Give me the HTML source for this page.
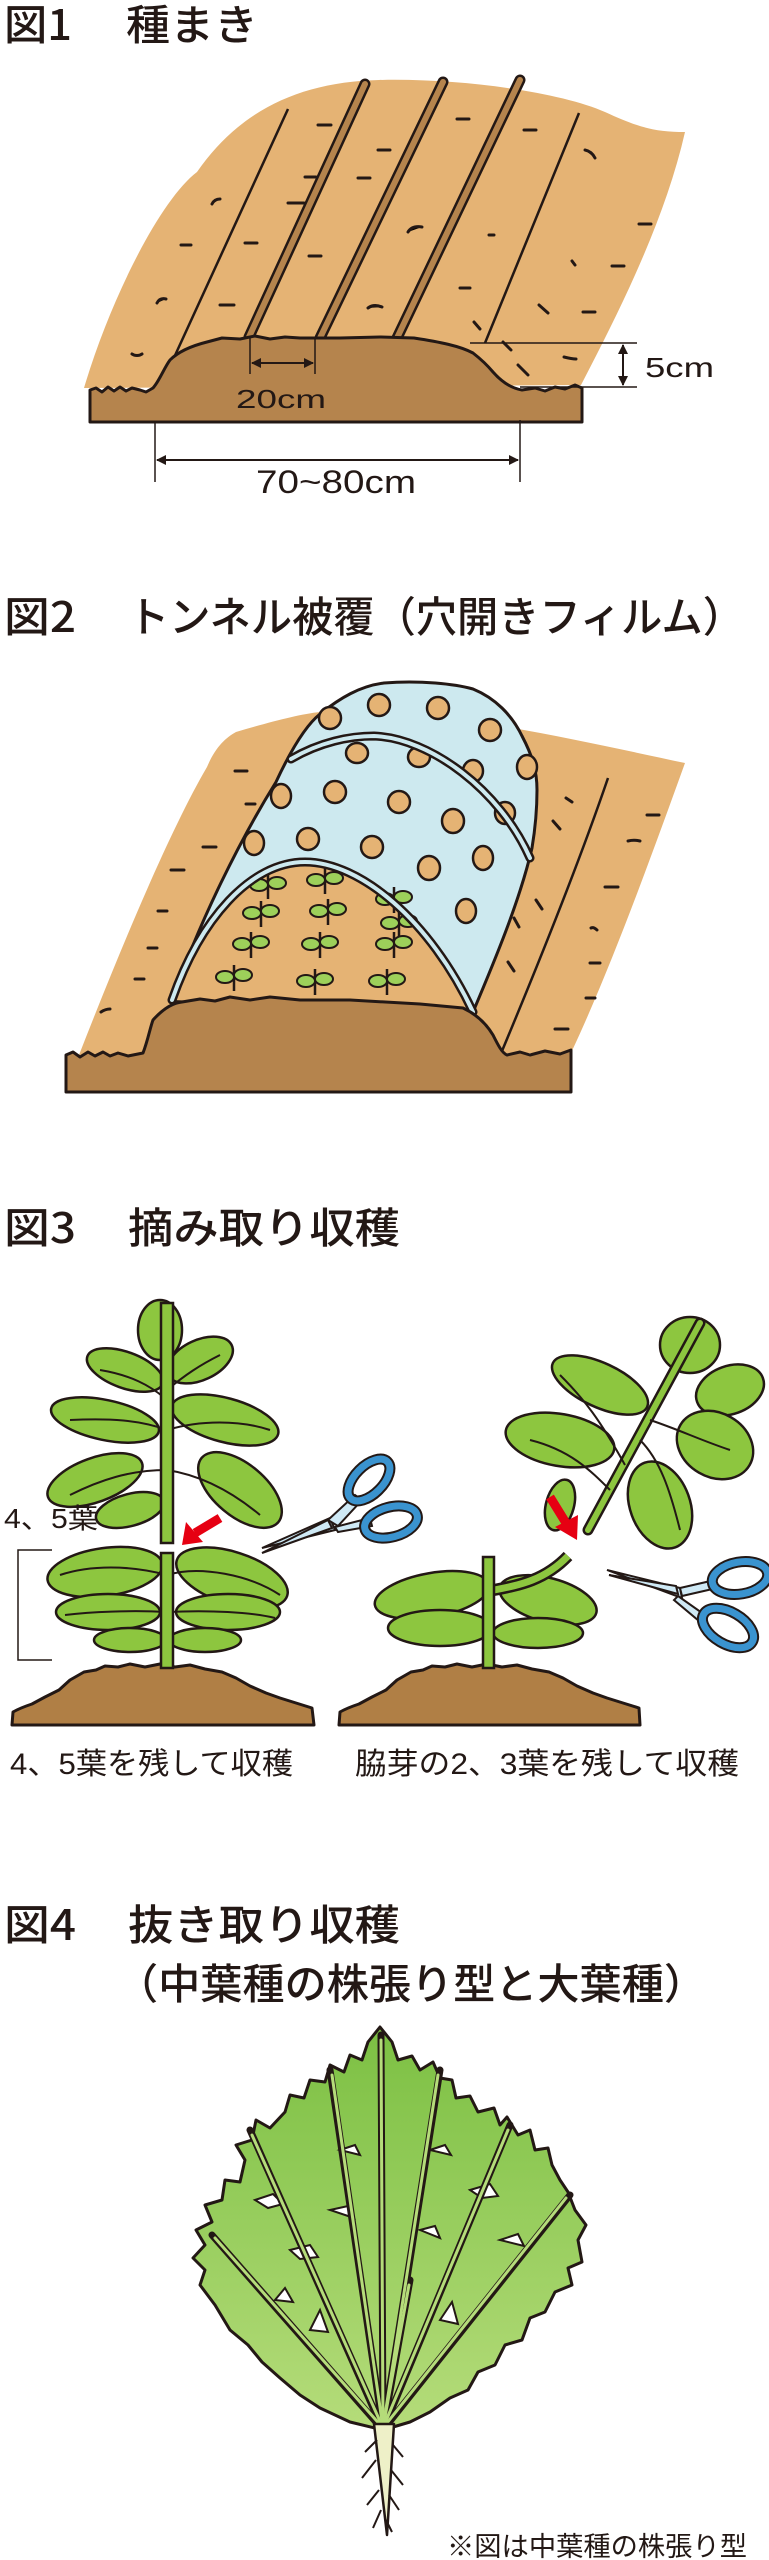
<!DOCTYPE html>
<html><head><meta charset="utf-8">
<style>
html,body{margin:0;padding:0;background:#fff;}
svg{display:block;}
.t{font-family:"Liberation Sans","Noto Sans CJK JP",sans-serif;fill:#231815;}
.tt{font-family:"Noto Sans CJK JP","Liberation Sans",sans-serif;fill:#231815;font-weight:500;}
</style></head>
<body>
<svg width="769" height="2560" viewBox="0 0 769 2560" xmlns="http://www.w3.org/2000/svg">
<defs>
<marker id="ah" markerWidth="10" markerHeight="10" refX="9" refY="5" orient="auto-start-reverse" markerUnits="userSpaceOnUse"><path d="M0,0 L10,5 L0,10 Z" fill="#231815"/></marker>
<g id="sd">
<line x1="0" y1="-14" x2="0" y2="12" stroke="#231815" stroke-width="2.5"/>
<ellipse cx="-9" cy="-2" rx="9" ry="6" fill="#9dd05a" stroke="#231815" stroke-width="2"/>
<ellipse cx="9" cy="-4" rx="9" ry="6" fill="#9dd05a" stroke="#231815" stroke-width="2"/>
</g>
<linearGradient id="lg" x1="0" y1="0" x2="0" y2="1"><stop offset="0" stop-color="#7cc043"/><stop offset="1" stop-color="#b5dc7a"/></linearGradient>
</defs>

<!-- ============ FIG 1 ============ -->
<text class="tt" x="4" y="40" font-size="42" textLength="68" lengthAdjust="spacingAndGlyphs">図1</text>
<text class="tt" x="126" y="40" font-size="42" textLength="132" lengthAdjust="spacingAndGlyphs">種まき</text>

<path d="M84,388 C110,300 160,200 197,172 C240,110 300,82 379,80 C460,78 560,92 605,112 C640,128 655,132 685,132 C665,220 620,310 581,385 Z" fill="#e5b374"/>
<g stroke="#231815" stroke-width="2.5" fill="none">
<line x1="288" y1="109" x2="172" y2="362"/>
<line x1="579" y1="113" x2="485" y2="343"/>
</g>
<g stroke-linecap="round">
<line x1="365" y1="84" x2="249" y2="337" stroke="#231815" stroke-width="11"/>
<line x1="365" y1="84" x2="249" y2="337" stroke="#b5844d" stroke-width="6"/>
<line x1="443" y1="82" x2="320" y2="338" stroke="#231815" stroke-width="11"/>
<line x1="443" y1="82" x2="320" y2="338" stroke="#b5844d" stroke-width="6"/>
<line x1="520" y1="80" x2="397" y2="338" stroke="#231815" stroke-width="11"/>
<line x1="520" y1="80" x2="397" y2="338" stroke="#b5844d" stroke-width="6"/>
</g>
<g stroke="#231815" stroke-width="3" stroke-linecap="round">
<path d="M318,125h13M457,119h12M524,130h12M585,150c5,1 8,4 10,8M378,150h12M305,177h11M358,178h12M212,204c2,-4 5,-5 8,-5M288,203h16M408,232c3,-5 8,-6 14,-5M489,235h5M639,224h12M181,245h10M245,243h12M309,256h12M612,266h12M572,261l3,4M157,303c2,-4 5,-5 9,-4M220,305h14M460,288h10M368,308c4,-3 9,-3 14,-1M539,305l9,8M583,312h12M474,322l6,7M132,354c3,2 7,2 10,0M564,357c4,1 8,2 12,2M518,365l10,10M503,342l8,8"/>
</g>
<path d="M90,422 L90,390 L96,388 L102,392 L108,387 L114,391 L120,387 L126,391 L132,388 L140,390 L146,392 L153,388 C160,380 164,368 170,360 C180,350 195,345 207,342 L222,338 L240,339 L255,336 L270,339 L285,337 L300,338 L340,338 L380,337 L414,338 C440,342 460,346 473,353 C482,360 488,366 493,372 C500,380 510,388 522,390 L535,388 L545,391 L555,387 L565,389 L575,385 L582,388 L582,422 Z" fill="#b5844d" stroke="#231815" stroke-width="3" stroke-linejoin="round"/>
<g stroke="#231815" stroke-width="1.5">
<line x1="250" y1="338" x2="250" y2="374"/>
<line x1="315" y1="338" x2="315" y2="374"/>
<line x1="252" y1="363" x2="313" y2="363" marker-start="url(#ah)" marker-end="url(#ah)" stroke-width="2"/>
<line x1="470" y1="343" x2="637" y2="343"/>
<line x1="520" y1="387" x2="637" y2="387"/>
<line x1="623" y1="345" x2="623" y2="385" marker-start="url(#ah)" marker-end="url(#ah)" stroke-width="2"/>
<line x1="155" y1="422" x2="155" y2="482"/>
<line x1="520" y1="420" x2="520" y2="482"/>
<line x1="157" y1="460" x2="518" y2="460" marker-start="url(#ah)" marker-end="url(#ah)" stroke-width="2"/>
</g>
<text class="t" x="236" y="408" font-size="26" textLength="90" lengthAdjust="spacingAndGlyphs">20cm</text>
<text class="t" x="645" y="377" font-size="28" textLength="69" lengthAdjust="spacingAndGlyphs">5cm</text>
<text class="t" x="256" y="493" font-size="32" textLength="160" lengthAdjust="spacingAndGlyphs">70~80cm</text>

<!-- ============ FIG 2 ============ -->
<text class="tt" x="4" y="632" font-size="42" textLength="72" lengthAdjust="spacingAndGlyphs">図2</text>
<text class="tt" x="128" y="632" font-size="42" textLength="616" lengthAdjust="spacingAndGlyphs">トンネル被覆（穴開きフィルム）</text>

<path d="M79,1055 C120,950 170,830 207,767 C215,748 225,738 236,732 C270,722 300,714 320,712 L400,712 C500,722 600,745 685,763 C650,860 610,970 571,1053 Z" fill="#e5b374"/>
<path d="M608,778 C580,860 540,960 502,1051" stroke="#231815" stroke-width="2.5" fill="none"/>
<g stroke="#231815" stroke-width="3" stroke-linecap="round">
<path d="M235,771h12M246,804h9M203,847h13M171,870h13M158,911h9M148,948h9M135,979h9M101,1012c3,-2 6,-3 9,-3M566,798l6,4M553,821l7,8M647,815h12M628,841c4,-1 8,-1 12,0M605,887h13M591,928c2,-1 4,0 6,2M590,963h10M586,998h9M555,1029h13M536,900l6,9M514,918l5,9M508,962l6,9M273,985c3,3 7,3 10,0M418,973c4,-3 9,-3 13,0"/>
</g>
<path d="M172,1000 C200,920 240,840 276,782 C290,752 305,726 320,714 C340,698 360,686 384,683 C420,680 455,684 473,689 C495,698 512,715 522,736 C532,755 537,770 537,790 C537,810 535,830 532,848 C520,900 495,960 473,1012 Z" fill="#cde9ef" stroke="#231815" stroke-width="3" stroke-linejoin="round"/>
<g fill="#e5b374" stroke="#231815" stroke-width="2.5">
<ellipse cx="379" cy="705" rx="11" ry="11"/><ellipse cx="438" cy="708" rx="11" ry="11"/><ellipse cx="330" cy="718" rx="11" ry="11"/><ellipse cx="490" cy="730" rx="11" ry="11"/>
<ellipse cx="357" cy="753" rx="11" ry="10"/><ellipse cx="419" cy="757" rx="11" ry="10"/><ellipse cx="473" cy="771" rx="10" ry="11"/><ellipse cx="527" cy="767" rx="10" ry="12"/>
<ellipse cx="281" cy="796" rx="10" ry="12"/><ellipse cx="335" cy="792" rx="11" ry="11"/><ellipse cx="399" cy="802" rx="11" ry="11"/><ellipse cx="453" cy="821" rx="11" ry="12"/><ellipse cx="505" cy="813" rx="10" ry="11"/>
<ellipse cx="254" cy="843" rx="10" ry="12"/><ellipse cx="308" cy="839" rx="11" ry="11"/><ellipse cx="372" cy="847" rx="11" ry="11"/><ellipse cx="483" cy="858" rx="10" ry="12"/><ellipse cx="429" cy="868" rx="11" ry="12"/><ellipse cx="466" cy="911" rx="10" ry="12"/>
</g>
<path d="M172,1000 C200,920 250,862 305,862 C360,862 430,920 473,1012 Z" fill="#e5b374"/>
<g>
<use href="#sd" x="268" y="887"/><use href="#sd" x="325" y="882"/><use href="#sd" x="261" y="915"/><use href="#sd" x="328" y="913"/><use href="#sd" x="394" y="901"/><use href="#sd" x="399" y="925"/><use href="#sd" x="251" y="946"/><use href="#sd" x="320" y="946"/><use href="#sd" x="394" y="946"/><use href="#sd" x="234" y="979"/><use href="#sd" x="315" y="983"/><use href="#sd" x="387" y="983"/>
</g>
<g fill="none" stroke-linecap="round">
<path d="M172,1000 C200,920 250,862 305,862 C360,862 430,920 473,1012" stroke="#231815" stroke-width="9"/>
<path d="M172,1000 C200,920 250,862 305,862 C360,862 430,920 473,1012" stroke="#cde9ef" stroke-width="4"/>
<path d="M291,759 C320,742 350,736 374,736 C430,738 500,790 530,858" stroke="#231815" stroke-width="9"/>
<path d="M291,759 C320,742 350,736 374,736 C430,738 500,790 530,858" stroke="#cde9ef" stroke-width="4"/>
</g>
<path d="M66,1092 L66,1055 L73,1052 L80,1057 L88,1052 L95,1056 L103,1052 L110,1056 L118,1053 L128,1056 L143,1053 C148,1040 150,1028 153,1020 C162,1010 172,1003 182,1002 L200,999 L215,1001 L230,997 L250,1000 L270,997 L300,1000 L350,1000 L420,1004 L463,1008 C478,1015 487,1025 493,1035 C498,1045 502,1053 507,1055 L520,1052 L530,1055 L545,1051 L560,1054 L571,1050 L571,1092 Z" fill="#b5844d" stroke="#231815" stroke-width="3" stroke-linejoin="round"/>

<!-- ============ FIG 3 ============ -->
<text class="tt" x="4" y="1243" font-size="42" textLength="72" lengthAdjust="spacingAndGlyphs">図3</text>
<text class="tt" x="128" y="1243" font-size="42" textLength="272" lengthAdjust="spacingAndGlyphs">摘み取り収穫</text>

<path d="M12,1725 L13,1712 C20,1708 26,1706 32,1704 L45,1697 L59,1690 L70,1680 L84,1672 L96,1670 L105,1666 L118,1667 L130,1664 L145,1667 L160,1664 L175,1667 L190,1665 L205,1669 L222,1672 L236,1678 L250,1686 L266,1693 L280,1698 L296,1703 L312,1708 L314,1725 Z" fill="#b07f45" stroke="#231815" stroke-width="3" stroke-linejoin="round"/>
<path d="M339,1725 L340,1712 C347,1708 353,1706 359,1704 L372,1697 L386,1690 L397,1680 L411,1672 L423,1670 L432,1666 L445,1667 L457,1664 L472,1667 L487,1664 L502,1667 L517,1665 L532,1669 L549,1672 L563,1678 L577,1686 L593,1693 L607,1698 L623,1703 L639,1708 L640,1725 Z" fill="#b07f45" stroke="#231815" stroke-width="3" stroke-linejoin="round"/>

<g fill="#8dc63f" stroke="#231815" stroke-width="2.5">
<ellipse cx="160" cy="1330" rx="22" ry="30"/>
<ellipse cx="125" cy="1370" rx="40" ry="18" transform="rotate(20 125 1370)"/>
<ellipse cx="200" cy="1360" rx="35" ry="20" transform="rotate(-25 200 1360)"/>
<ellipse cx="105" cy="1420" rx="55" ry="20" transform="rotate(12 105 1420)"/>
<ellipse cx="225" cy="1420" rx="55" ry="22" transform="rotate(15 225 1420)"/>
<ellipse cx="95" cy="1480" rx="50" ry="22" transform="rotate(-20 95 1480)"/>
<ellipse cx="240" cy="1490" rx="50" ry="26" transform="rotate(40 240 1490)"/>
<ellipse cx="130" cy="1510" rx="35" ry="16" transform="rotate(-15 130 1510)"/>
<ellipse cx="105" cy="1572" rx="58" ry="24" transform="rotate(-8 105 1572)"/>
<ellipse cx="232" cy="1578" rx="58" ry="26" transform="rotate(18 232 1578)"/>
<ellipse cx="108" cy="1612" rx="52" ry="18"/>
<ellipse cx="228" cy="1612" rx="52" ry="18"/>
<ellipse cx="130" cy="1640" rx="36" ry="12"/>
<ellipse cx="205" cy="1640" rx="36" ry="12"/>
</g>
<g stroke="#231815" stroke-width="2" fill="none">
<path d="M167,1400 C150,1385 130,1375 100,1370M167,1390 C185,1375 200,1365 220,1355M167,1430 C140,1420 110,1418 70,1420M167,1430 C200,1420 240,1420 270,1430M167,1470 C130,1470 100,1480 70,1495M167,1470 C200,1475 230,1490 260,1515M167,1575 C130,1565 90,1565 60,1575M167,1575 C200,1565 250,1575 280,1595M167,1612 C130,1610 90,1612 65,1615M167,1612 C210,1610 250,1612 275,1618"/>
</g>
<rect x="161" y="1303" width="12" height="240" fill="#8dc63f" stroke="#231815" stroke-width="2.5"/>
<rect x="161" y="1553" width="12" height="115" fill="#8dc63f" stroke="#231815" stroke-width="2.5"/>
<line x1="220" y1="1518" x2="195" y2="1533" stroke="#e60012" stroke-width="9"/>
<path d="M182,1545 L186,1522 L203,1542 Z" fill="#e60012"/>
<g stroke="#231815" stroke-width="2">
<path d="M330,1518 L262,1548 L335,1530 Z" fill="#cfe9f5"/>
<path d="M332,1528 L262,1553 L328,1520 Z" fill="#cfe9f5"/>
<path d="M328,1520 L355,1495 L362,1500 L338,1526 Z" fill="#cfe9f5"/>
<path d="M335,1527 L370,1518 L372,1526 L338,1532 Z" fill="#cfe9f5"/>
</g>
<g fill="none">
<ellipse cx="369" cy="1480" rx="26" ry="14" transform="rotate(-45 369 1480)" stroke="#231815" stroke-width="11"/>
<ellipse cx="369" cy="1480" rx="26" ry="14" transform="rotate(-45 369 1480)" stroke="#3a93cf" stroke-width="7"/>
<ellipse cx="391" cy="1522" rx="27" ry="15" transform="rotate(-15 391 1522)" stroke="#231815" stroke-width="11"/>
<ellipse cx="391" cy="1522" rx="27" ry="15" transform="rotate(-15 391 1522)" stroke="#3a93cf" stroke-width="7"/>
</g>
<path d="M52,1550 H18 V1660 H52" fill="none" stroke="#231815" stroke-width="1.5"/>
<text class="t" x="4" y="1528" font-size="28" textLength="94" lengthAdjust="spacingAndGlyphs">4、5葉</text>

<g fill="#8dc63f" stroke="#231815" stroke-width="2.5">
<ellipse cx="690" cy="1345" rx="30" ry="28"/>
<ellipse cx="600" cy="1385" rx="52" ry="22" transform="rotate(25 600 1385)"/>
<ellipse cx="730" cy="1390" rx="35" ry="24" transform="rotate(-20 730 1390)"/>
<ellipse cx="560" cy="1440" rx="55" ry="26" transform="rotate(10 560 1440)"/>
<ellipse cx="715" cy="1445" rx="40" ry="32" transform="rotate(30 715 1445)"/>
<ellipse cx="660" cy="1505" rx="30" ry="45" transform="rotate(-20 660 1505)"/>
<ellipse cx="560" cy="1505" rx="14" ry="26" transform="rotate(15 560 1505)"/>
</g>
<path d="M588,1530 L700,1323" stroke="#231815" stroke-width="11" stroke-linecap="round"/>
<path d="M588,1530 L700,1323" stroke="#8dc63f" stroke-width="6" stroke-linecap="round"/>
<g stroke="#231815" stroke-width="2" fill="none"><path d="M610,1490 C590,1470 570,1450 530,1440M625,1465 C600,1420 585,1400 560,1375M650,1420 C680,1430 700,1440 730,1450M640,1440 C660,1460 670,1490 680,1530"/></g>
<g fill="#8dc63f" stroke="#231815" stroke-width="2.5">
<ellipse cx="432" cy="1595" rx="58" ry="22" transform="rotate(-10 432 1595)"/>
<ellipse cx="440" cy="1628" rx="52" ry="18"/>
<ellipse cx="548" cy="1600" rx="50" ry="22" transform="rotate(15 548 1600)"/>
<ellipse cx="538" cy="1633" rx="45" ry="15"/>
</g>
<path d="M494,1590 C520,1585 545,1580 568,1556" stroke="#231815" stroke-width="12" fill="none"/>
<path d="M494,1590 C520,1585 545,1580 568,1556" stroke="#8dc63f" stroke-width="7" fill="none"/>
<rect x="483" y="1557" width="11" height="111" fill="#8dc63f" stroke="#231815" stroke-width="2.5"/>
<line x1="550" y1="1497" x2="566" y2="1523" stroke="#e60012" stroke-width="9"/>
<path d="M577,1540 L555,1527 L578,1515 Z" fill="#e60012"/>
<g stroke="#231815" stroke-width="2">
<path d="M680,1588 L607,1570 L682,1598 Z" fill="#cfe9f5"/>
<path d="M678,1594 L609,1575 L676,1586 Z" fill="#cfe9f5"/>
<path d="M680,1588 L715,1580 L717,1588 L682,1596 Z" fill="#cfe9f5"/>
<path d="M678,1596 L705,1615 L699,1621 L674,1600 Z" fill="#cfe9f5"/>
</g>
<g fill="none">
<ellipse cx="740" cy="1578" rx="28" ry="16" transform="rotate(-10 740 1578)" stroke="#231815" stroke-width="11"/>
<ellipse cx="740" cy="1578" rx="28" ry="16" transform="rotate(-10 740 1578)" stroke="#3a93cf" stroke-width="7"/>
<ellipse cx="728" cy="1628" rx="28" ry="16" transform="rotate(30 728 1628)" stroke="#231815" stroke-width="11"/>
<ellipse cx="728" cy="1628" rx="28" ry="16" transform="rotate(30 728 1628)" stroke="#3a93cf" stroke-width="7"/>
</g>

<text class="t" x="10" y="1774" font-size="30" textLength="283" lengthAdjust="spacingAndGlyphs">4、5葉を残して収穫</text>
<text class="t" x="355" y="1774" font-size="30" textLength="384" lengthAdjust="spacingAndGlyphs">脇芽の2、3葉を残して収穫</text>

<!-- ============ FIG 4 ============ -->
<text class="tt" x="4" y="1940" font-size="42" textLength="72" lengthAdjust="spacingAndGlyphs">図4</text>
<text class="tt" x="128" y="1940" font-size="42" textLength="272" lengthAdjust="spacingAndGlyphs">抜き取り収穫</text>
<text class="tt" x="116" y="1999" font-size="42" textLength="590" lengthAdjust="spacingAndGlyphs">（中葉種の株張り型と大葉種）</text>

<path d="M383,2430 L350,2422 L320,2408 L300,2395 L280,2378 L262,2362 L248,2345 L230,2330 L215,2305 L200,2285 L205,2270 L193,2258 L205,2245 L196,2230 L212,2222 L205,2205 L222,2200 L225,2180 L240,2182 L245,2160 L236,2145 L252,2140 L256,2120 L270,2128 L285,2112 L290,2095 L304,2098 L310,2080 L325,2082 L330,2065 L344,2072 L350,2055 L362,2060 L368,2042 L380,2027 L392,2042 L398,2060 L412,2056 L420,2070 L433,2062 L440,2078 L452,2080 L456,2098 L470,2096 L478,2112 L494,2108 L500,2125 L507,2117 L518,2135 L530,2130 L535,2150 L548,2148 L552,2165 L560,2180 L568,2192 L575,2210 L586,2225 L578,2240 L582,2262 L568,2268 L572,2285 L555,2292 L545,2312 L530,2318 L522,2340 L505,2345 L495,2365 L478,2372 L468,2390 L450,2398 L430,2412 L410,2422 Z" fill="url(#lg)" stroke="#231815" stroke-width="3" stroke-linejoin="round"/>
<g fill="#fff" stroke="#231815" stroke-width="2">
<path d="M255,2200 l18,-6 l10,10 l-15,4 z"/><path d="M290,2250 l20,-5 l8,12 l-18,2 z"/><path d="M340,2150 l15,-5 l5,10 z"/><path d="M330,2210 l18,-4 l6,12 z"/>
<path d="M430,2150 l15,-5 l6,10 z"/><path d="M470,2190 l20,-6 l8,12 l-16,2 z"/><path d="M500,2240 l18,-6 l6,12 z"/><path d="M420,2230 l15,-4 l5,12 z"/>
<path d="M310,2330 l10,-20 l8,22 z"/><path d="M440,2320 l12,-18 l6,22 z"/><path d="M275,2300 l10,-12 l8,14 z"/>
</g>
<g fill="none" stroke-linecap="round">
<g stroke="#231815" stroke-width="7">
<path d="M383,2430 L381,2035"/><path d="M383,2430 L250,2130"/><path d="M383,2430 L212,2235"/><path d="M383,2430 L510,2125"/><path d="M383,2430 L570,2195"/><path d="M383,2430 L330,2070"/><path d="M383,2430 L440,2070"/><path d="M383,2430 L410,2280"/>
</g>
<g stroke="#b5dc7a" stroke-width="3">
<path d="M383,2428 L381,2040"/><path d="M383,2428 L252,2135"/><path d="M383,2428 L215,2238"/><path d="M383,2428 L508,2130"/><path d="M383,2428 L566,2198"/><path d="M383,2428 L332,2075"/><path d="M383,2428 L438,2075"/><path d="M383,2428 L409,2285"/>
</g>
</g>
<path d="M374,2424 L394,2424 L387,2535 Z" fill="#eef0c8" stroke="#231815" stroke-width="2.5" stroke-linejoin="round"/>
<g stroke="#231815" stroke-width="2" fill="none">
<path d="M377,2440 l-12,12M376,2460 l-14,18M379,2490 l-12,15M381,2510 l-8,18M393,2445 l10,12M391,2470 l12,15M389,2495 l10,15M386,2520 l6,12"/>
</g>
<text class="t" x="447" y="2556" font-size="27" textLength="300" lengthAdjust="spacingAndGlyphs">※図は中葉種の株張り型</text>
</svg>
</body></html>
